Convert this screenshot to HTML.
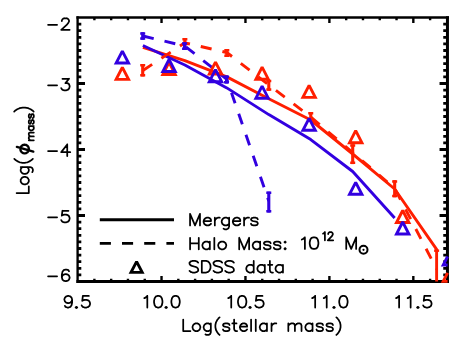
<!DOCTYPE html><html><head><meta charset="utf-8"><style>html,body{margin:0;padding:0;background:#fff;font-family:"Liberation Sans",sans-serif}svg{display:block}</style></head><body><svg width="458" height="352" viewBox="0 0 458 352"><defs><clipPath id="clip"><rect x="77.60" y="17.50" width="370.30" height="265.50"/></clipPath></defs><path d="M77.60 16.25V283.00" stroke="#000" stroke-width="2.35"/>
<path d="M447.45 16.25V283.00" stroke="#000" stroke-width="3.0"/>
<path d="M76.43 17.50H448.95" stroke="#000" stroke-width="2.5"/>
<path d="M76.43 281.50H448.95" stroke="#000" stroke-width="3.0"/>
<path d="M94.39 281.50v-2.70M94.39 17.50v2.70M111.17 281.50v-2.70M111.17 17.50v2.70M127.96 281.50v-2.70M127.96 17.50v2.70M144.75 281.50v-2.70M144.75 17.50v2.70M161.53 281.50v-5.40M161.53 17.50v5.40M178.32 281.50v-2.70M178.32 17.50v2.70M195.10 281.50v-2.70M195.10 17.50v2.70M211.89 281.50v-2.70M211.89 17.50v2.70M228.68 281.50v-2.70M228.68 17.50v2.70M245.46 281.50v-5.40M245.46 17.50v5.40M262.25 281.50v-2.70M262.25 17.50v2.70M279.04 281.50v-2.70M279.04 17.50v2.70M295.82 281.50v-2.70M295.82 17.50v2.70M312.61 281.50v-2.70M312.61 17.50v2.70M329.40 281.50v-5.40M329.40 17.50v5.40M346.18 281.50v-2.70M346.18 17.50v2.70M362.97 281.50v-2.70M362.97 17.50v2.70M379.75 281.50v-2.70M379.75 17.50v2.70M396.54 281.50v-2.70M396.54 17.50v2.70M413.33 281.50v-5.40M413.33 17.50v5.40M430.11 281.50v-2.70M430.11 17.50v2.70" fill="none" stroke="#000" stroke-width="2.4"/>
<path d="M77.60 24.10h3.70M447.45 24.10h-4.20M77.60 30.70h3.70M447.45 30.70h-4.20M77.60 37.30h3.70M447.45 37.30h-4.20M77.60 43.90h3.70M447.45 43.90h-4.20M77.60 50.50h3.70M447.45 50.50h-4.20M77.60 57.10h3.70M447.45 57.10h-4.20M77.60 63.70h3.70M447.45 63.70h-4.20M77.60 70.30h3.70M447.45 70.30h-4.20M77.60 76.90h3.70M447.45 76.90h-4.20M77.60 83.50h7.40M447.45 83.50h-7.90M77.60 90.10h3.70M447.45 90.10h-4.20M77.60 96.70h3.70M447.45 96.70h-4.20M77.60 103.30h3.70M447.45 103.30h-4.20M77.60 109.90h3.70M447.45 109.90h-4.20M77.60 116.50h3.70M447.45 116.50h-4.20M77.60 123.10h3.70M447.45 123.10h-4.20M77.60 129.70h3.70M447.45 129.70h-4.20M77.60 136.30h3.70M447.45 136.30h-4.20M77.60 142.90h3.70M447.45 142.90h-4.20M77.60 149.50h7.40M447.45 149.50h-7.90M77.60 156.10h3.70M447.45 156.10h-4.20M77.60 162.70h3.70M447.45 162.70h-4.20M77.60 169.30h3.70M447.45 169.30h-4.20M77.60 175.90h3.70M447.45 175.90h-4.20M77.60 182.50h3.70M447.45 182.50h-4.20M77.60 189.10h3.70M447.45 189.10h-4.20M77.60 195.70h3.70M447.45 195.70h-4.20M77.60 202.30h3.70M447.45 202.30h-4.20M77.60 208.90h3.70M447.45 208.90h-4.20M77.60 215.50h7.40M447.45 215.50h-7.90M77.60 222.10h3.70M447.45 222.10h-4.20M77.60 228.70h3.70M447.45 228.70h-4.20M77.60 235.30h3.70M447.45 235.30h-4.20M77.60 241.90h3.70M447.45 241.90h-4.20M77.60 248.50h3.70M447.45 248.50h-4.20M77.60 255.10h3.70M447.45 255.10h-4.20M77.60 261.70h3.70M447.45 261.70h-4.20M77.60 268.30h3.70M447.45 268.30h-4.20M77.60 274.90h3.70M447.45 274.90h-4.20" fill="none" stroke="#000" stroke-width="2.8"/>
<g>
<path d="M142.90 47.30L184.86 60.60L226.82 76.90L268.78 98.70L310.74 120.00L352.70 154.00L394.66 189.00L436.62 249.40L436.62 281.60" fill="none" stroke="#ff1e00" stroke-width="2.90" stroke-linejoin="round"/>
<path d="M142.90 45.50L184.86 65.00L226.82 87.90L268.78 114.60L310.74 139.60L352.70 171.50L394.66 218.00" fill="none" stroke="#3200e0" stroke-width="2.90" stroke-linejoin="round"/>
<path d="M142.90 70.50L184.86 42.80L226.82 52.50L268.78 85.00L310.74 117.00L352.70 152.60L394.66 188.30L436.62 269.00" fill="none" stroke="#ff1e00" stroke-width="2.90" stroke-linejoin="round" stroke-dasharray="11.1 11.1"/>
<path d="M142.90 36.00L184.86 46.00L226.82 79.30L268.78 201.00" fill="none" stroke="#3200e0" stroke-width="2.90" stroke-linejoin="round" stroke-dasharray="11.1 11.1"/>
<path d="M142.70 64.00V76.50" stroke="#ff1e00" stroke-width="3.10"/>
<path d="M140.20 65.25h5.00M140.20 75.25h5.00" stroke="#ff1e00" stroke-width="2.50"/>
<path d="M184.86 38.00V45.40" stroke="#ff1e00" stroke-width="3.10"/>
<path d="M182.36 39.25h5.00M182.36 44.15h5.00" stroke="#ff1e00" stroke-width="2.50"/>
<path d="M226.82 49.00V57.00" stroke="#ff1e00" stroke-width="3.10"/>
<path d="M224.32 50.25h5.00M224.32 55.75h5.00" stroke="#ff1e00" stroke-width="2.50"/>
<path d="M268.78 79.80V90.80" stroke="#ff1e00" stroke-width="3.10"/>
<path d="M266.28 81.05h5.00M266.28 89.55h5.00" stroke="#ff1e00" stroke-width="2.50"/>
<path d="M310.74 112.00V122.00" stroke="#ff1e00" stroke-width="3.10"/>
<path d="M308.24 113.25h5.00M308.24 120.75h5.00" stroke="#ff1e00" stroke-width="2.50"/>
<path d="M352.70 144.30V164.10" stroke="#ff1e00" stroke-width="3.10"/>
<path d="M350.20 145.55h5.00M350.20 162.85h5.00" stroke="#ff1e00" stroke-width="2.50"/>
<path d="M394.66 180.20V197.30" stroke="#ff1e00" stroke-width="3.10"/>
<path d="M392.16 181.45h5.00M392.16 196.05h5.00" stroke="#ff1e00" stroke-width="2.50"/>
<path d="M434.12 250.65h5" stroke="#ff1e00" stroke-width="2.5"/>
<path d="M142.70 32.20V39.80" stroke="#3200e0" stroke-width="3.10"/>
<path d="M140.20 33.45h5.00M140.20 38.55h5.00" stroke="#3200e0" stroke-width="2.50"/>
<path d="M184.56 42.30V49.90" stroke="#3200e0" stroke-width="3.10"/>
<path d="M182.06 43.55h5.00M182.06 48.65h5.00" stroke="#3200e0" stroke-width="2.50"/>
<path d="M226.52 75.40V83.60" stroke="#3200e0" stroke-width="3.10"/>
<path d="M224.02 76.65h5.00M224.02 82.35h5.00" stroke="#3200e0" stroke-width="2.50"/>
<path d="M268.78 191.60V212.60" stroke="#3200e0" stroke-width="3.10"/>
<path d="M266.28 192.85h5.00M266.28 211.35h5.00" stroke="#3200e0" stroke-width="2.50"/>
<path d="M122.35 67.35L128.55 79.35L116.15 79.35Z" fill="none" stroke="#ff1e00" stroke-width="2.90" stroke-linejoin="miter" stroke-miterlimit="2.02"/>
<path d="M169.05 62.45L175.25 74.45L162.85 74.45Z" fill="none" stroke="#ff1e00" stroke-width="2.90" stroke-linejoin="miter" stroke-miterlimit="2.02"/>
<path d="M215.50 62.10L221.70 74.10L209.30 74.10Z" fill="none" stroke="#ff1e00" stroke-width="2.90" stroke-linejoin="miter" stroke-miterlimit="2.02"/>
<path d="M262.10 67.20L268.30 79.20L255.90 79.20Z" fill="none" stroke="#ff1e00" stroke-width="2.90" stroke-linejoin="miter" stroke-miterlimit="2.02"/>
<path d="M309.10 85.40L315.30 97.40L302.90 97.40Z" fill="none" stroke="#ff1e00" stroke-width="2.90" stroke-linejoin="miter" stroke-miterlimit="2.02"/>
<path d="M355.70 130.70L361.90 142.70L349.50 142.70Z" fill="none" stroke="#ff1e00" stroke-width="2.90" stroke-linejoin="miter" stroke-miterlimit="2.02"/>
<path d="M402.70 210.50L408.90 222.50L396.50 222.50Z" fill="none" stroke="#ff1e00" stroke-width="2.90" stroke-linejoin="miter" stroke-miterlimit="2.02"/>
<path d="M122.35 51.05L128.55 63.05L116.15 63.05Z" fill="none" stroke="#3200e0" stroke-width="2.90" stroke-linejoin="miter" stroke-miterlimit="2.02"/>
<path d="M169.05 59.45L175.25 71.45L162.85 71.45Z" fill="none" stroke="#3200e0" stroke-width="2.90" stroke-linejoin="miter" stroke-miterlimit="2.02"/>
<path d="M215.50 69.70L221.70 81.70L209.30 81.70Z" fill="none" stroke="#3200e0" stroke-width="2.90" stroke-linejoin="miter" stroke-miterlimit="2.02"/>
<path d="M262.10 86.20L268.30 98.20L255.90 98.20Z" fill="none" stroke="#3200e0" stroke-width="2.90" stroke-linejoin="miter" stroke-miterlimit="2.02"/>
<path d="M309.10 118.30L315.30 130.30L302.90 130.30Z" fill="none" stroke="#3200e0" stroke-width="2.90" stroke-linejoin="miter" stroke-miterlimit="2.02"/>
<path d="M355.70 182.30L361.90 194.30L349.50 194.30Z" fill="none" stroke="#3200e0" stroke-width="2.90" stroke-linejoin="miter" stroke-miterlimit="2.02"/>
<path d="M402.70 222.00L408.90 234.00L396.50 234.00Z" fill="none" stroke="#3200e0" stroke-width="2.90" stroke-linejoin="miter" stroke-miterlimit="2.02"/>
<path d="M447.60 272.88L443.20 281.40L447.60 281.40" fill="none" stroke="#ff1e00" stroke-width="2.90" stroke-linejoin="miter" stroke-miterlimit="2.02"/>
<path d="M447.60 256.48L443.20 265.00L447.60 265.00" fill="none" stroke="#3200e0" stroke-width="2.90" stroke-linejoin="miter" stroke-miterlimit="2.02"/>
</g>
<path d="M99.8 219.8H174" stroke="#000" stroke-width="2.9"/>
<path d="M99.8 243.4H174" stroke="#000" stroke-width="2.9" stroke-dasharray="11.1 11.1"/>
<path d="M136.60 261.55L142.20 272.35L131.00 272.35Z" fill="none" stroke="#000" stroke-width="2.90" stroke-linejoin="miter" stroke-miterlimit="2.02"/>
<path d="M48.08 24.85L57.08 24.85M61.83 21.00L61.83 20.45M61.83 20.45L62.43 19.35M62.43 19.35L63.03 18.80M63.03 18.80L64.23 18.25M66.63 18.25L67.83 18.80M67.23 24.30L68.43 22.65M67.83 18.80L68.43 19.35M68.43 22.65L69.03 21.55M68.43 19.35L69.03 20.45M66.63 18.25L64.23 18.25M67.23 24.30L61.23 29.80M69.63 29.80L61.23 29.80M69.03 21.55L69.03 20.45" fill="none" stroke="#000" stroke-width="1.75" stroke-linecap="round"/>
<path d="M48.08 85.35L57.08 85.35M61.23 88.10L61.83 89.20M61.83 89.20L62.43 89.75M62.43 89.75L64.23 90.30M66.03 90.30L67.83 89.75M67.23 83.15L68.43 83.70M68.43 83.70L69.03 84.25M69.03 88.65L69.63 87.00M69.03 84.25L69.63 85.90M66.03 90.30L64.23 90.30M65.43 83.15L69.03 78.75M67.23 83.15L65.43 83.15M67.83 89.75L69.03 88.65M69.03 78.75L62.43 78.75M69.63 87.00L69.63 85.90" fill="none" stroke="#000" stroke-width="1.75" stroke-linecap="round"/>
<path d="M48.08 151.05L57.08 151.05M61.23 152.15L67.23 144.45M67.23 152.15L61.23 152.15M67.23 152.15L67.23 156.00M67.23 144.45L67.23 152.15M70.23 152.15L67.23 152.15" fill="none" stroke="#000" stroke-width="1.75" stroke-linecap="round"/>
<path d="M48.08 217.35L57.08 217.35M61.23 220.10L61.83 221.20M61.83 221.20L62.43 221.75M61.83 215.70L62.43 215.15M61.83 215.70L62.43 210.75M62.43 221.75L64.23 222.30M62.43 215.15L64.23 214.60M66.03 222.30L67.83 221.75M66.03 214.60L67.83 215.15M69.03 220.65L69.63 219.00M69.03 216.25L69.63 217.90M66.03 222.30L64.23 222.30M66.03 214.60L64.23 214.60M67.83 221.75L69.03 220.65M67.83 215.15L69.03 216.25M68.43 210.75L62.43 210.75M69.63 219.00L69.63 217.90" fill="none" stroke="#000" stroke-width="1.75" stroke-linecap="round"/>
<path d="M48.08 276.25L57.08 276.25M61.83 277.35L62.43 279.55M61.83 277.35L62.43 275.70M61.83 274.60L62.43 271.85M62.43 271.85L63.63 270.20M63.63 280.65L65.43 281.20M63.63 274.60L65.43 274.05M63.63 270.20L65.43 269.65M65.43 281.20L66.03 281.20M65.43 274.05L66.03 274.05M66.03 281.20L67.83 280.65M66.03 274.05L67.83 274.60M66.63 269.65L68.43 270.20M68.43 270.20L69.03 271.30M69.03 279.55L69.63 277.90M69.03 275.70L69.63 277.35M69.63 277.90L69.63 277.35M61.83 274.60L61.83 277.35M62.43 279.55L63.63 280.65M62.43 275.70L63.63 274.60M65.43 269.65L66.63 269.65M67.83 280.65L69.03 279.55M67.83 274.60L69.03 275.70" fill="none" stroke="#000" stroke-width="1.75" stroke-linecap="round"/>
<path d="M64.34 299.80L64.34 299.25M64.34 299.80L64.94 301.45M64.34 299.25L64.94 297.60M64.94 305.85L65.54 306.95M65.54 306.95L67.34 307.50M66.14 302.55L67.94 303.10M66.14 296.50L67.94 295.95M67.94 303.10L68.54 303.10M67.94 295.95L68.54 295.95M68.54 307.50L70.34 306.95M68.54 303.10L70.34 302.55M68.54 295.95L70.34 296.50M70.34 306.95L71.54 305.30M71.54 305.30L72.14 302.55M71.54 301.45L72.14 299.80M71.54 297.60L72.14 299.80M64.94 301.45L66.14 302.55M64.94 297.60L66.14 296.50M67.34 307.50L68.54 307.50M70.34 302.55L71.54 301.45M70.34 296.50L71.54 297.60M72.14 299.80L72.14 302.55M75.58 307.50L76.42 308.00M75.58 307.50L76.42 307.00M76.42 308.00L77.26 307.50M76.42 307.00L77.26 307.50M81.65 305.30L82.25 306.40M82.25 306.40L82.85 306.95M82.25 300.90L82.85 300.35M82.25 300.90L82.85 295.95M82.85 306.95L84.65 307.50M82.85 300.35L84.65 299.80M86.45 307.50L88.25 306.95M86.45 299.80L88.25 300.35M89.45 305.85L90.05 304.20M89.45 301.45L90.05 303.10M86.45 307.50L84.65 307.50M86.45 299.80L84.65 299.80M88.25 306.95L89.45 305.85M88.25 300.35L89.45 301.45M88.85 295.95L82.85 295.95M90.05 304.20L90.05 303.10" fill="none" stroke="#000" stroke-width="1.75" stroke-linecap="round"/>
<path d="M144.31 298.15L145.51 297.60M147.31 295.95L145.51 297.60M147.31 295.95L147.31 307.50M154.05 302.55L154.65 305.30M154.05 300.90L154.65 298.15M154.65 305.30L155.85 306.95M154.65 298.15L155.85 296.50M155.85 306.95L157.65 307.50M155.85 296.50L157.65 295.95M158.85 307.50L160.65 306.95M158.85 295.95L160.65 296.50M160.65 306.95L161.85 305.30M160.65 296.50L161.85 298.15M161.85 305.30L162.45 302.55M161.85 298.15L162.45 300.90M154.05 300.90L154.05 302.55M157.65 307.50L158.85 307.50M157.65 295.95L158.85 295.95M162.45 300.90L162.45 302.55M165.28 307.50L166.12 308.00M165.28 307.50L166.12 307.00M166.12 308.00L166.96 307.50M166.12 307.00L166.96 307.50M171.36 302.55L171.96 305.30M171.36 300.90L171.96 298.15M171.96 305.30L173.16 306.95M171.96 298.15L173.16 296.50M173.16 306.95L174.96 307.50M173.16 296.50L174.96 295.95M176.16 307.50L177.96 306.95M176.16 295.95L177.96 296.50M177.96 306.95L179.16 305.30M177.96 296.50L179.16 298.15M179.16 305.30L179.76 302.55M179.16 298.15L179.76 300.90M171.36 300.90L171.36 302.55M174.96 307.50L176.16 307.50M174.96 295.95L176.16 295.95M179.76 300.90L179.76 302.55" fill="none" stroke="#000" stroke-width="1.75" stroke-linecap="round"/>
<path d="M228.24 298.15L229.44 297.60M231.24 295.95L229.44 297.60M231.24 295.95L231.24 307.50M237.98 302.55L238.58 305.30M237.98 300.90L238.58 298.15M238.58 305.30L239.78 306.95M238.58 298.15L239.78 296.50M239.78 306.95L241.58 307.50M239.78 296.50L241.58 295.95M242.78 307.50L244.58 306.95M242.78 295.95L244.58 296.50M244.58 306.95L245.78 305.30M244.58 296.50L245.78 298.15M245.78 305.30L246.38 302.55M245.78 298.15L246.38 300.90M237.98 300.90L237.98 302.55M241.58 307.50L242.78 307.50M241.58 295.95L242.78 295.95M246.38 300.90L246.38 302.55M249.21 307.50L250.05 308.00M249.21 307.50L250.05 307.00M250.05 308.00L250.89 307.50M250.05 307.00L250.89 307.50M255.29 305.30L255.89 306.40M255.89 306.40L256.49 306.95M255.89 300.90L256.49 300.35M255.89 300.90L256.49 295.95M256.49 306.95L258.29 307.50M256.49 300.35L258.29 299.80M260.09 307.50L261.89 306.95M260.09 299.80L261.89 300.35M263.09 305.85L263.69 304.20M263.09 301.45L263.69 303.10M260.09 307.50L258.29 307.50M260.09 299.80L258.29 299.80M261.89 306.95L263.09 305.85M261.89 300.35L263.09 301.45M262.49 295.95L256.49 295.95M263.69 304.20L263.69 303.10" fill="none" stroke="#000" stroke-width="1.75" stroke-linecap="round"/>
<path d="M312.17 298.15L313.37 297.60M315.17 295.95L313.37 297.60M315.17 295.95L315.17 307.50M323.71 298.15L324.91 297.60M326.71 295.95L324.91 297.60M326.71 295.95L326.71 307.50M333.15 307.50L333.99 308.00M333.15 307.50L333.99 307.00M333.99 308.00L334.83 307.50M333.99 307.00L334.83 307.50M339.22 302.55L339.82 305.30M339.22 300.90L339.82 298.15M339.82 305.30L341.02 306.95M339.82 298.15L341.02 296.50M341.02 306.95L342.82 307.50M341.02 296.50L342.82 295.95M344.02 307.50L345.82 306.95M344.02 295.95L345.82 296.50M345.82 306.95L347.02 305.30M345.82 296.50L347.02 298.15M347.02 305.30L347.62 302.55M347.02 298.15L347.62 300.90M339.22 300.90L339.22 302.55M342.82 307.50L344.02 307.50M342.82 295.95L344.02 295.95M347.62 300.90L347.62 302.55" fill="none" stroke="#000" stroke-width="1.75" stroke-linecap="round"/>
<path d="M396.10 298.15L397.30 297.60M399.10 295.95L397.30 297.60M399.10 295.95L399.10 307.50M407.64 298.15L408.84 297.60M410.64 295.95L408.84 297.60M410.64 295.95L410.64 307.50M417.08 307.50L417.92 308.00M417.08 307.50L417.92 307.00M417.92 308.00L418.76 307.50M417.92 307.00L418.76 307.50M423.15 305.30L423.75 306.40M423.75 306.40L424.35 306.95M423.75 300.90L424.35 300.35M423.75 300.90L424.35 295.95M424.35 306.95L426.15 307.50M424.35 300.35L426.15 299.80M427.95 307.50L429.75 306.95M427.95 299.80L429.75 300.35M430.95 305.85L431.55 304.20M430.95 301.45L431.55 303.10M427.95 307.50L426.15 307.50M427.95 299.80L426.15 299.80M429.75 306.95L430.95 305.85M429.75 300.35L430.95 301.45M430.35 295.95L424.35 295.95M431.55 304.20L431.55 303.10" fill="none" stroke="#000" stroke-width="1.75" stroke-linecap="round"/>
<path d="M183.21 319.55L183.21 331.10M190.41 331.10L183.21 331.10M192.54 327.80L193.14 329.45M192.54 326.70L193.14 325.05M194.34 330.55L195.54 331.10M194.34 323.95L195.54 323.40M197.34 331.10L198.54 330.55M197.34 323.40L198.54 323.95M199.74 329.45L200.34 327.80M199.74 325.05L200.34 326.70M192.54 327.80L192.54 326.70M193.14 329.45L194.34 330.55M193.14 325.05L194.34 323.95M197.34 331.10L195.54 331.10M197.34 323.40L195.54 323.40M198.54 330.55L199.74 329.45M198.54 323.95L199.74 325.05M200.34 327.80L200.34 326.70M203.64 327.80L204.24 329.45M203.64 326.70L204.24 325.05M205.44 334.40L206.64 334.95M205.44 330.55L206.64 331.10M205.44 323.95L206.64 323.40M208.44 334.95L209.64 334.40M208.44 331.10L209.64 330.55M208.44 323.40L209.64 323.95M209.64 334.40L210.24 333.85M210.24 333.85L210.84 332.20M203.64 327.80L203.64 326.70M204.24 329.45L205.44 330.55M204.24 325.05L205.44 323.95M208.44 334.95L206.64 334.95M208.44 331.10L206.64 331.10M208.44 323.40L206.64 323.40M209.64 330.55L210.84 329.45M209.64 323.95L210.84 325.05M210.84 329.45L210.84 332.20M210.84 325.05L210.84 329.45M210.84 323.40L210.84 325.05M215.39 327.25L215.99 330.00M215.39 325.05L215.99 322.30M217.19 332.20L218.39 333.85M217.19 320.10L218.39 318.45M215.39 325.05L215.39 327.25M215.99 330.00L217.19 332.20M215.99 322.30L217.19 320.10M218.39 333.85L219.59 334.95M218.39 318.45L219.59 317.35M222.95 329.45L223.55 330.55M222.95 325.05L223.55 326.15M222.95 325.05L223.55 323.95M223.55 330.55L225.35 331.10M223.55 326.15L224.75 326.70M223.55 323.95L225.35 323.40M224.75 326.70L227.75 327.25M227.15 331.10L228.95 330.55M227.15 323.40L228.95 323.95M227.75 327.25L228.95 327.80M228.95 330.55L229.55 329.45M228.95 327.80L229.55 328.90M228.95 323.95L229.55 325.05M229.55 329.45L229.55 328.90M227.15 331.10L225.35 331.10M227.15 323.40L225.35 323.40M234.12 328.90L234.72 330.55M234.72 330.55L235.92 331.10M234.12 323.40L232.32 323.40M234.12 323.40L234.12 328.90M234.12 319.55L234.12 323.40M235.92 331.10L237.12 331.10M236.52 323.40L234.12 323.40M239.89 327.80L240.49 329.45M239.89 326.70L240.49 325.05M241.69 330.55L242.89 331.10M241.69 323.95L242.89 323.40M244.69 331.10L245.89 330.55M244.69 323.40L245.89 323.95M245.89 323.95L246.49 324.50M246.49 324.50L247.09 325.60M239.89 327.80L239.89 326.70M240.49 329.45L241.69 330.55M240.49 325.05L241.69 323.95M244.69 331.10L242.89 331.10M244.69 323.40L242.89 323.40M245.89 330.55L247.09 329.45M247.09 326.70L239.89 326.70M247.09 326.70L247.09 325.60M251.09 319.55L251.09 331.10M255.76 319.55L255.76 331.10M259.75 327.80L260.35 329.45M259.75 326.70L260.35 325.05M261.55 330.55L262.75 331.10M261.55 323.95L262.75 323.40M264.55 331.10L265.75 330.55M264.55 323.40L265.75 323.95M259.75 327.80L259.75 326.70M260.35 329.45L261.55 330.55M260.35 325.05L261.55 323.95M264.55 331.10L262.75 331.10M264.55 323.40L262.75 323.40M265.75 330.55L266.95 329.45M265.75 323.95L266.95 325.05M266.95 329.45L266.95 331.10M266.95 325.05L266.95 329.45M266.95 323.40L266.95 325.05M271.51 326.70L272.11 325.05M273.31 323.95L274.51 323.40M271.51 326.70L271.51 331.10M271.51 323.40L271.51 326.70M272.11 325.05L273.31 323.95M276.31 323.40L274.51 323.40M290.12 323.95L291.32 323.40M293.12 323.40L294.32 323.95M294.32 323.95L294.92 325.60M296.72 323.95L297.92 323.40M299.72 323.40L300.92 323.95M300.92 323.95L301.52 325.60M288.32 325.60L288.32 331.10M288.32 323.40L288.32 325.60M290.12 323.95L288.32 325.60M293.12 323.40L291.32 323.40M294.92 325.60L294.92 331.10M296.72 323.95L294.92 325.60M299.72 323.40L297.92 323.40M301.52 325.60L301.52 331.10M305.34 327.80L305.94 329.45M305.34 326.70L305.94 325.05M307.14 330.55L308.34 331.10M307.14 323.95L308.34 323.40M310.14 331.10L311.34 330.55M310.14 323.40L311.34 323.95M305.34 327.80L305.34 326.70M305.94 329.45L307.14 330.55M305.94 325.05L307.14 323.95M310.14 331.10L308.34 331.10M310.14 323.40L308.34 323.40M311.34 330.55L312.54 329.45M311.34 323.95L312.54 325.05M312.54 329.45L312.54 331.10M312.54 325.05L312.54 329.45M312.54 323.40L312.54 325.05M316.47 329.45L317.07 330.55M316.47 325.05L317.07 326.15M316.47 325.05L317.07 323.95M317.07 330.55L318.87 331.10M317.07 326.15L318.27 326.70M317.07 323.95L318.87 323.40M318.27 326.70L321.27 327.25M320.67 331.10L322.47 330.55M320.67 323.40L322.47 323.95M321.27 327.25L322.47 327.80M322.47 330.55L323.07 329.45M322.47 327.80L323.07 328.90M322.47 323.95L323.07 325.05M323.07 329.45L323.07 328.90M320.67 331.10L318.87 331.10M320.67 323.40L318.87 323.40M326.40 329.45L327.00 330.55M326.40 325.05L327.00 326.15M326.40 325.05L327.00 323.95M327.00 330.55L328.80 331.10M327.00 326.15L328.20 326.70M327.00 323.95L328.80 323.40M328.20 326.70L331.20 327.25M330.60 331.10L332.40 330.55M330.60 323.40L332.40 323.95M331.20 327.25L332.40 327.80M332.40 330.55L333.00 329.45M332.40 327.80L333.00 328.90M332.40 323.95L333.00 325.05M333.00 329.45L333.00 328.90M330.60 331.10L328.80 331.10M330.60 323.40L328.80 323.40M337.56 333.85L338.76 332.20M337.56 318.45L338.76 320.10M339.96 330.00L340.56 327.25M339.96 322.30L340.56 325.05M336.36 334.95L337.56 333.85M336.36 317.35L337.56 318.45M338.76 332.20L339.96 330.00M338.76 320.10L339.96 322.30M340.56 325.05L340.56 327.25" fill="none" stroke="#000" stroke-width="1.75" stroke-linecap="round"/>
<path d="M190.06 213.85L195.02 225.40M195.02 225.40L199.98 213.85M190.06 213.85L190.06 225.40M199.98 213.85L199.98 225.40M203.59 222.10L204.20 223.75M203.59 221.00L204.20 219.35M205.44 224.85L206.69 225.40M205.44 218.25L206.69 217.70M208.54 225.40L209.78 224.85M208.54 217.70L209.78 218.25M209.78 218.25L210.41 218.80M210.41 218.80L211.03 219.90M203.59 222.10L203.59 221.00M204.20 223.75L205.44 224.85M204.20 219.35L205.44 218.25M208.54 225.40L206.69 225.40M208.54 217.70L206.69 217.70M209.78 224.85L211.03 223.75M211.03 221.00L203.59 221.00M211.03 221.00L211.03 219.90M214.82 221.00L215.44 219.35M216.68 218.25L217.92 217.70M214.82 221.00L214.82 225.40M214.82 217.70L214.82 221.00M215.44 219.35L216.68 218.25M219.78 217.70L217.92 217.70M221.70 222.10L222.32 223.75M221.70 221.00L222.32 219.35M223.56 228.70L224.80 229.25M223.56 224.85L224.80 225.40M223.56 218.25L224.80 217.70M226.66 229.25L227.90 228.70M226.66 225.40L227.90 224.85M226.66 217.70L227.90 218.25M227.90 228.70L228.52 228.15M228.52 228.15L229.14 226.50M221.70 222.10L221.70 221.00M222.32 223.75L223.56 224.85M222.32 219.35L223.56 218.25M226.66 229.25L224.80 229.25M226.66 225.40L224.80 225.40M226.66 217.70L224.80 217.70M227.90 224.85L229.14 223.75M227.90 218.25L229.14 219.35M229.14 223.75L229.14 226.50M229.14 219.35L229.14 223.75M229.14 217.70L229.14 219.35M232.84 222.10L233.45 223.75M232.84 221.00L233.45 219.35M234.69 224.85L235.94 225.40M234.69 218.25L235.94 217.70M237.79 225.40L239.03 224.85M237.79 217.70L239.03 218.25M239.03 218.25L239.66 218.80M239.66 218.80L240.28 219.90M232.84 222.10L232.84 221.00M233.45 223.75L234.69 224.85M233.45 219.35L234.69 218.25M237.79 225.40L235.94 225.40M237.79 217.70L235.94 217.70M239.03 224.85L240.28 223.75M240.28 221.00L232.84 221.00M240.28 221.00L240.28 219.90M244.07 221.00L244.69 219.35M245.93 218.25L247.17 217.70M244.07 221.00L244.07 225.40M244.07 217.70L244.07 221.00M244.69 219.35L245.93 218.25M249.03 217.70L247.17 217.70M250.99 223.75L251.61 224.85M250.99 219.35L251.61 220.45M250.99 219.35L251.61 218.25M251.61 224.85L253.47 225.40M251.61 220.45L252.85 221.00M251.61 218.25L253.47 217.70M252.85 221.00L255.95 221.55M255.33 225.40L257.19 224.85M255.33 217.70L257.19 218.25M255.95 221.55L257.19 222.10M257.19 224.85L257.81 223.75M257.19 222.10L257.81 223.20M257.19 218.25L257.81 219.35M257.81 223.75L257.81 223.20M255.33 225.40L253.47 225.40M255.33 217.70L253.47 217.70" fill="none" stroke="#000" stroke-width="1.75" stroke-linecap="round"/>
<path d="M190.09 243.25L190.09 249.30M190.09 237.75L190.09 243.25M198.78 243.25L190.09 243.25M198.78 243.25L198.78 249.30M198.78 237.75L198.78 243.25M202.40 246.00L203.02 247.65M202.40 244.90L203.02 243.25M204.26 248.75L205.50 249.30M204.26 242.15L205.50 241.60M207.36 249.30L208.60 248.75M207.36 241.60L208.60 242.15M202.40 246.00L202.40 244.90M203.02 247.65L204.26 248.75M203.02 243.25L204.26 242.15M207.36 249.30L205.50 249.30M207.36 241.60L205.50 241.60M208.60 248.75L209.84 247.65M208.60 242.15L209.84 243.25M209.84 247.65L209.84 249.30M209.84 243.25L209.84 247.65M209.84 241.60L209.84 243.25M214.33 237.75L214.33 249.30M218.19 246.00L218.81 247.65M218.19 244.90L218.81 243.25M220.05 248.75L221.29 249.30M220.05 242.15L221.29 241.60M223.15 249.30L224.39 248.75M223.15 241.60L224.39 242.15M225.63 247.65L226.25 246.00M225.63 243.25L226.25 244.90M218.19 246.00L218.19 244.90M218.81 247.65L220.05 248.75M218.81 243.25L220.05 242.15M223.15 249.30L221.29 249.30M223.15 241.60L221.29 241.60M224.39 248.75L225.63 247.65M224.39 242.15L225.63 243.25M226.25 246.00L226.25 244.90M239.20 237.75L244.16 249.30M244.16 249.30L249.12 237.75M239.20 237.75L239.20 249.30M249.12 237.75L249.12 249.30M252.71 246.00L253.33 247.65M252.71 244.90L253.33 243.25M254.57 248.75L255.81 249.30M254.57 242.15L255.81 241.60M257.67 249.30L258.91 248.75M257.67 241.60L258.91 242.15M252.71 246.00L252.71 244.90M253.33 247.65L254.57 248.75M253.33 243.25L254.57 242.15M257.67 249.30L255.81 249.30M257.67 241.60L255.81 241.60M258.91 248.75L260.15 247.65M258.91 242.15L260.15 243.25M260.15 247.65L260.15 249.30M260.15 243.25L260.15 247.65M260.15 241.60L260.15 243.25M263.86 247.65L264.48 248.75M263.86 243.25L264.48 244.35M263.86 243.25L264.48 242.15M264.48 248.75L266.34 249.30M264.48 244.35L265.72 244.90M264.48 242.15L266.34 241.60M265.72 244.90L268.82 245.45M268.20 249.30L270.06 248.75M268.20 241.60L270.06 242.15M268.82 245.45L270.06 246.00M270.06 248.75L270.68 247.65M270.06 246.00L270.68 247.10M270.06 242.15L270.68 243.25M270.68 247.65L270.68 247.10M268.20 249.30L266.34 249.30M268.20 241.60L266.34 241.60M273.80 247.65L274.42 248.75M273.80 243.25L274.42 244.35M273.80 243.25L274.42 242.15M274.42 248.75L276.28 249.30M274.42 244.35L275.66 244.90M274.42 242.15L276.28 241.60M275.66 244.90L278.76 245.45M278.14 249.30L280.00 248.75M278.14 241.60L280.00 242.15M278.76 245.45L280.00 246.00M280.00 248.75L280.62 247.65M280.00 246.00L280.62 247.10M280.00 242.15L280.62 243.25M280.62 247.65L280.62 247.10M278.14 249.30L276.28 249.30M278.14 241.60L276.28 241.60M284.49 248.75L285.11 249.30M284.49 248.75L285.11 248.20M284.49 242.15L285.11 242.70M284.49 242.15L285.11 241.60M285.11 249.30L285.73 248.75M285.11 248.20L285.73 248.75M285.11 242.70L285.73 242.15M285.11 241.60L285.73 242.15" fill="none" stroke="#000" stroke-width="1.75" stroke-linecap="round"/>
<path d="M189.51 263.70L190.13 264.80M190.13 264.80L190.75 265.35M190.75 271.95L192.61 272.50M190.75 265.35L191.99 265.90M190.75 261.50L192.61 260.95M195.09 272.50L196.95 271.95M195.09 260.95L196.95 261.50M195.71 267.00L196.95 267.55M196.95 267.55L197.57 268.10M197.57 268.10L198.19 269.20M189.51 270.85L190.75 271.95M189.51 263.70L189.51 262.60M189.51 262.60L190.75 261.50M191.99 265.90L195.71 267.00M195.09 272.50L192.61 272.50M195.09 260.95L192.61 260.95M196.95 271.95L198.19 270.85M196.95 261.50L198.19 262.60M198.19 269.20L198.19 270.85M206.15 272.50L208.01 271.95M206.15 260.95L208.01 261.50M209.25 270.85L209.87 269.75M209.25 262.60L209.87 263.70M209.87 269.75L210.49 268.10M209.87 263.70L210.49 265.35M201.81 260.95L201.81 272.50M206.15 272.50L201.81 272.50M206.15 260.95L201.81 260.95M208.01 271.95L209.25 270.85M208.01 261.50L209.25 262.60M210.49 265.35L210.49 268.10M213.50 263.70L214.11 264.80M214.11 264.80L214.73 265.35M214.73 271.95L216.59 272.50M214.73 265.35L215.97 265.90M214.73 261.50L216.59 260.95M219.07 272.50L220.94 271.95M219.07 260.95L220.94 261.50M219.69 267.00L220.94 267.55M220.94 267.55L221.55 268.10M221.55 268.10L222.17 269.20M213.50 270.85L214.73 271.95M213.50 263.70L213.50 262.60M213.50 262.60L214.73 261.50M215.97 265.90L219.69 267.00M219.07 272.50L216.59 272.50M219.07 260.95L216.59 260.95M220.94 271.95L222.17 270.85M220.94 261.50L222.17 262.60M222.17 269.20L222.17 270.85M225.19 263.70L225.81 264.80M225.81 264.80L226.43 265.35M226.43 271.95L228.29 272.50M226.43 265.35L227.67 265.90M226.43 261.50L228.29 260.95M230.77 272.50L232.63 271.95M230.77 260.95L232.63 261.50M231.39 267.00L232.63 267.55M232.63 267.55L233.25 268.10M233.25 268.10L233.87 269.20M225.19 270.85L226.43 271.95M225.19 263.70L225.19 262.60M225.19 262.60L226.43 261.50M227.67 265.90L231.39 267.00M230.77 272.50L228.29 272.50M230.77 260.95L228.29 260.95M232.63 271.95L233.87 270.85M232.63 261.50L233.87 262.60M233.87 269.20L233.87 270.85M246.27 269.20L246.89 270.85M246.27 268.10L246.89 266.45M248.13 271.95L249.37 272.50M248.13 265.35L249.37 264.80M251.23 272.50L252.47 271.95M251.23 264.80L252.47 265.35M246.27 269.20L246.27 268.10M246.89 270.85L248.13 271.95M246.89 266.45L248.13 265.35M251.23 272.50L249.37 272.50M251.23 264.80L249.37 264.80M252.47 271.95L253.71 270.85M252.47 265.35L253.71 266.45M253.71 270.85L253.71 272.50M253.71 266.45L253.71 270.85M253.71 260.95L253.71 266.45M257.39 269.20L258.01 270.85M257.39 268.10L258.01 266.45M259.25 271.95L260.49 272.50M259.25 265.35L260.49 264.80M262.35 272.50L263.59 271.95M262.35 264.80L263.59 265.35M257.39 269.20L257.39 268.10M258.01 270.85L259.25 271.95M258.01 266.45L259.25 265.35M262.35 272.50L260.49 272.50M262.35 264.80L260.49 264.80M263.59 271.95L264.83 270.85M263.59 265.35L264.83 266.45M264.83 270.85L264.83 272.50M264.83 266.45L264.83 270.85M264.83 264.80L264.83 266.45M269.87 270.30L270.49 271.95M270.49 271.95L271.72 272.50M269.87 264.80L268.00 264.80M269.87 264.80L269.87 270.30M269.87 260.95L269.87 264.80M271.72 272.50L272.96 272.50M272.34 264.80L269.87 264.80M275.52 269.20L276.14 270.85M275.52 268.10L276.14 266.45M277.38 271.95L278.62 272.50M277.38 265.35L278.62 264.80M280.48 272.50L281.72 271.95M280.48 264.80L281.72 265.35M275.52 269.20L275.52 268.10M276.14 270.85L277.38 271.95M276.14 266.45L277.38 265.35M280.48 272.50L278.62 272.50M280.48 264.80L278.62 264.80M281.72 271.95L282.96 270.85M281.72 265.35L282.96 266.45M282.96 270.85L282.96 272.50M282.96 266.45L282.96 270.85M282.96 264.80L282.96 266.45" fill="none" stroke="#000" stroke-width="1.75" stroke-linecap="round"/>
<path d="M301.80 239.55L303.04 239.00M304.90 237.35L303.04 239.00M304.90 237.35L304.90 248.90" fill="none" stroke="#000" stroke-width="1.75" stroke-linecap="round"/>
<path d="M309.71 243.95L310.33 246.70M309.71 242.30L310.33 239.55M310.33 246.70L311.57 248.35M310.33 239.55L311.57 237.90M311.57 248.35L313.43 248.90M311.57 237.90L313.43 237.35M314.67 248.90L316.53 248.35M314.67 237.35L316.53 237.90M316.53 248.35L317.77 246.70M316.53 237.90L317.77 239.55M317.77 246.70L318.39 243.95M317.77 239.55L318.39 242.30M309.71 242.30L309.71 243.95M313.43 248.90L314.67 248.90M313.43 237.35L314.67 237.35M318.39 242.30L318.39 243.95" fill="none" stroke="#000" stroke-width="1.75" stroke-linecap="round"/>
<path d="M322.98 233.67L323.75 233.28M324.90 232.11L323.75 233.28M324.90 232.11L324.90 240.30" fill="none" stroke="#000" stroke-width="1.75" stroke-linecap="round"/>
<path d="M328.19 234.06L328.19 233.67M328.19 233.67L328.58 232.89M328.58 232.89L328.96 232.50M328.96 232.50L329.73 232.11M331.27 232.11L332.04 232.50M331.65 236.40L332.42 235.23M332.04 232.50L332.42 232.89M332.42 235.23L332.81 234.45M332.42 232.89L332.81 233.67M331.27 232.11L329.73 232.11M331.65 236.40L327.81 240.30M333.19 240.30L327.81 240.30M332.81 234.45L332.81 233.67" fill="none" stroke="#000" stroke-width="1.75" stroke-linecap="round"/>
<path d="M346.24 237.35L351.20 248.90M351.20 248.90L356.16 237.35M346.24 237.35L346.24 248.90M356.16 237.35L356.16 248.90" fill="none" stroke="#000" stroke-width="1.75" stroke-linecap="round"/>
<circle cx="363.5" cy="249.8" r="4.0" fill="none" stroke="#000" stroke-width="2.0"/><circle cx="363.5" cy="249.8" r="1.1" fill="#000"/>
<path d="M2.11 -12.18L2.11 0.00M8.95 0.00L2.11 0.00M10.87 -3.48L11.44 -1.74M10.87 -4.64L11.44 -6.38M12.58 -0.58L13.72 0.00M12.58 -7.54L13.72 -8.12M15.43 0.00L16.57 -0.58M15.43 -8.12L16.57 -7.54M17.71 -1.74L18.28 -3.48M17.71 -6.38L18.28 -4.64M10.87 -3.48L10.87 -4.64M11.44 -1.74L12.58 -0.58M11.44 -6.38L12.58 -7.54M15.43 0.00L13.72 0.00M15.43 -8.12L13.72 -8.12M16.57 -0.58L17.71 -1.74M16.57 -7.54L17.71 -6.38M18.28 -3.48L18.28 -4.64M21.32 -3.48L21.89 -1.74M21.32 -4.64L21.89 -6.38M23.03 3.48L24.17 4.06M23.03 -0.58L24.17 0.00M23.03 -7.54L24.17 -8.12M25.88 4.06L27.02 3.48M25.88 0.00L27.02 -0.58M25.88 -8.12L27.02 -7.54M27.02 3.48L27.59 2.90M27.59 2.90L28.16 1.16M21.32 -3.48L21.32 -4.64M21.89 -1.74L23.03 -0.58M21.89 -6.38L23.03 -7.54M25.88 4.06L24.17 4.06M25.88 0.00L24.17 0.00M25.88 -8.12L24.17 -8.12M27.02 -0.58L28.16 -1.74M27.02 -7.54L28.16 -6.38M28.16 -1.74L28.16 1.16M28.16 -6.38L28.16 -1.74M28.16 -8.12L28.16 -6.38M32.39 -4.06L32.96 -1.16M32.39 -6.38L32.96 -9.28M34.10 1.16L35.24 2.90M34.10 -11.60L35.24 -13.34M32.39 -6.38L32.39 -4.06M32.96 -1.16L34.10 1.16M32.96 -9.28L34.10 -11.60M35.24 2.90L36.38 4.06M35.24 -13.34L36.38 -14.50" fill="none" stroke="#000" stroke-width="1.75" stroke-linecap="round" transform="translate(28.8 195.2) rotate(-90)"/>
<path d="M50.50 -4.18L50.17 -5.82M50.17 -5.82L49.23 -7.21M49.23 -7.21L47.83 -8.14M47.83 -8.14L46.17 -8.47M46.17 -8.47L44.51 -8.14M44.51 -8.14L43.11 -7.21M43.11 -7.21L42.17 -5.82M42.17 -5.82L41.84 -4.18M41.84 -4.18L42.17 -2.53M42.17 -2.53L43.11 -1.14M43.11 -1.14L44.51 -0.21M44.51 -0.21L46.17 0.12M46.17 0.12L47.83 -0.21M47.83 -0.21L49.23 -1.14M49.23 -1.14L50.17 -2.53M50.17 -2.53L50.50 -4.18M43.61 4.52L48.39 -11.95" fill="none" stroke="#000" stroke-width="2.30" stroke-linecap="round" transform="translate(28.8 195.2) rotate(-90)"/>
<path d="M55.99 0.33L56.69 -0.03M57.75 -0.03L58.46 0.33M58.46 0.33L58.82 1.40M59.88 0.33L60.58 -0.03M61.64 -0.03L62.35 0.33M62.35 0.33L62.70 1.40M54.93 1.40L54.93 5.00M54.93 -0.03L54.93 1.40M55.99 0.33L54.93 1.40M57.75 -0.03L56.69 -0.03M58.82 1.40L58.82 5.00M59.88 0.33L58.82 1.40M61.64 -0.03L60.58 -0.03M62.70 1.40L62.70 5.00M64.87 2.84L65.23 3.92M64.87 2.12L65.23 1.04M65.93 4.64L66.64 5.00M65.93 0.33L66.64 -0.03M67.70 5.00L68.41 4.64M67.70 -0.03L68.41 0.33M64.87 2.84L64.87 2.12M65.23 3.92L65.93 4.64M65.23 1.04L65.93 0.33M67.70 5.00L66.64 5.00M67.70 -0.03L66.64 -0.03M68.41 4.64L69.11 3.92M68.41 0.33L69.11 1.04M69.11 3.92L69.11 5.00M69.11 1.04L69.11 3.92M69.11 -0.03L69.11 1.04M71.36 3.92L71.72 4.64M71.36 1.04L71.72 1.76M71.36 1.04L71.72 0.33M71.72 4.64L72.78 5.00M71.72 1.76L72.42 2.12M71.72 0.33L72.78 -0.03M72.42 2.12L74.19 2.48M73.84 5.00L74.90 4.64M73.84 -0.03L74.90 0.33M74.19 2.48L74.90 2.84M74.90 4.64L75.25 3.92M74.90 2.84L75.25 3.56M74.90 0.33L75.25 1.04M75.25 3.92L75.25 3.56M73.84 5.00L72.78 5.00M73.84 -0.03L72.78 -0.03M77.16 3.92L77.51 4.64M77.16 1.04L77.51 1.76M77.16 1.04L77.51 0.33M77.51 4.64L78.57 5.00M77.51 1.76L78.22 2.12M77.51 0.33L78.57 -0.03M78.22 2.12L79.99 2.48M79.63 5.00L80.69 4.64M79.63 -0.03L80.69 0.33M79.99 2.48L80.69 2.84M80.69 4.64L81.05 3.92M80.69 2.84L81.05 3.56M80.69 0.33L81.05 1.04M81.05 3.92L81.05 3.56M79.63 5.00L78.57 5.00M79.63 -0.03L78.57 -0.03" fill="none" stroke="#000" stroke-width="1.75" stroke-linecap="round" transform="translate(28.8 195.2) rotate(-90)"/>
<path d="M84.75 3.65L85.89 1.82M84.75 -13.41L85.89 -11.58M87.03 -0.62L87.60 -3.66M87.03 -9.14L87.60 -6.10M83.61 4.86L84.75 3.65M83.61 -14.62L84.75 -13.41M85.89 1.82L87.03 -0.62M85.89 -11.58L87.03 -9.14M87.60 -6.10L87.60 -3.66" fill="none" stroke="#000" stroke-width="1.75" stroke-linecap="round" transform="translate(28.8 195.2) rotate(-90)"/></svg></body></html>
